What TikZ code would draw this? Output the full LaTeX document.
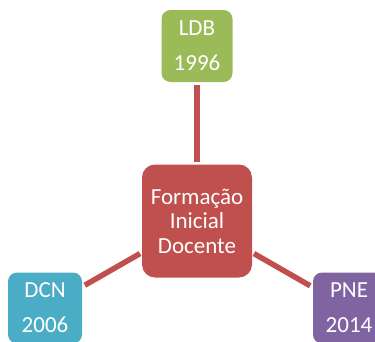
\documentclass[tikz,border=0pt]{standalone}
\usepackage{fontspec}
\setmainfont{Carlito}
\definecolor{ldbgreen}{HTML}{9BBB59}
\definecolor{fidred}{HTML}{C0504D}
\definecolor{dcnblue}{HTML}{4BACC6}
\definecolor{pnepurple}{HTML}{8064A2}
\begin{document}
\begin{tikzpicture}[x=1pt,y=-1pt,every node/.style={rounded corners=9pt,text=white,align=center,inner sep=0pt,font=\fontsize{23}{35}\selectfont}]
		\useasboundingbox (0,0) rectangle (375,341);
		\clip (0,0) rectangle (375,341);
		\node[fill=fidred,minimum width=110pt,minimum height=113pt,rounded corners=13pt,font=\fontsize{23}{24.5}\selectfont] (fid) at (197,221) {Formação\\Inicial\\Docente};
		\node[fill=ldbgreen,minimum width=71pt,minimum height=72pt] (ldb) at (197,46)  {LDB\\1996};
		\node[fill=dcnblue,minimum width=74pt,minimum height=71pt]  (dcn) at (45,308)  {DCN\\2006};
		\node[fill=pnepurple,minimum width=72pt,minimum height=71pt] (pne) at (349,308) {PNE\\2014};

		\foreach \to in {ldb,dcn,pne}
			\draw [fidred, line width=5.5pt, shorten <=2pt, shorten >=3pt] (fid) -- (\to);
	\end{tikzpicture}
\end{document}
